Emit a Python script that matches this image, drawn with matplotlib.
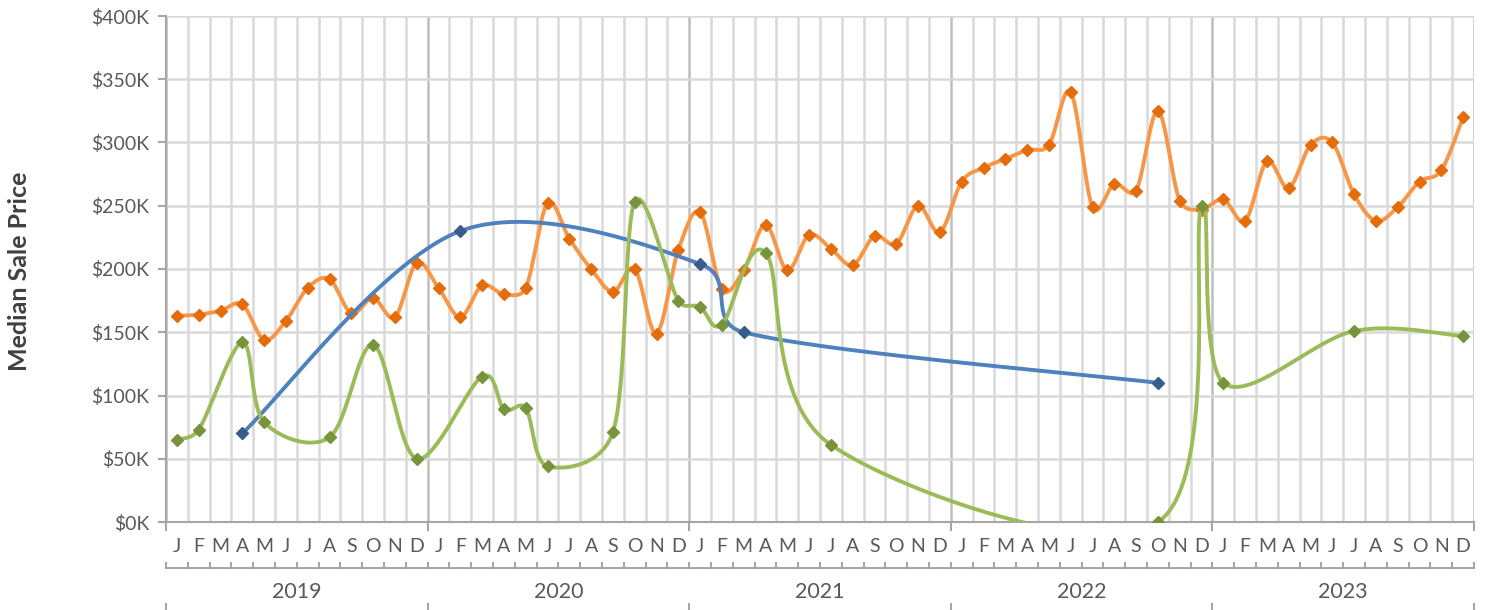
import matplotlib.pyplot as plt
import numpy as np
from matplotlib.transforms import blended_transform_factory
from matplotlib.ticker import FuncFormatter

plt.rcParams['font.family'] = ['Lato', 'DejaVu Sans']

# median sale price in $K, one entry per month Jan 2019 .. Dec 2023 (None = no sale)
month_letters = ['J', 'F', 'M', 'A', 'M', 'J', 'J', 'A', 'S', 'O', 'N', 'D']
years = ['2019', '2020', '2021', '2022', '2023']

orange_k = [163, 164, 167, 172, 144, 159, 185, 192, 165, 177, 162, 205,
            185, 162, 187, 180, 185, 252, 224, 200, 182, 200, 149, 215,
            245, 184, 199, 235, 199, 227, 216, 203, 226, 220, 250, 229,
            269, 280, 287, 294, 298, 340, 249, 267, 262, 325, 254, 247,
            255, 238, 285, 264, 298, 300, 259, 238, 249, 269, 278, 320]

green_k = [65, 73, None, 142, 79, None, None, 67, None, 140, None, 50,
           None, None, 115, 89, 90, 44, None, None, 71, 253, None, 175,
           170, 156, None, 213, None, None, 61, None, None, None, None, None,
           None, None, None, None, None, None, None, None, None, 0, None, 250,
           110, None, None, None, None, None, 151, None, None, None, None, 147]

blue_k = [None, None, None, 70, None, None, None, None, None, None, None, None,
          None, 230, None, None, None, None, None, None, None, None, None, None,
          204, None, 150, None, None, None, None, None, None, None, None, None,
          None, None, None, None, None, None, None, None, None, 110, None, None,
          None, None, None, None, None, None, None, None, None, None, None, None]

# pixel scale used for the excel-like smoothing
PX_X = 21.8
PX_Y = 1.265


def smooth(xs, ys, n=60):
    p = np.column_stack([np.array(xs, float) * PX_X, np.array(ys, float) * PX_Y])
    if len(p) < 3:
        return xs, ys
    out = [p[:1]]
    for i in range(len(p) - 1):
        p0 = p[i - 1] if i > 0 else p[i]
        p1, p2 = p[i], p[i + 1]
        p3 = p[i + 2] if i + 2 < len(p) else p[i + 1]
        d02 = np.hypot(*(p2 - p0))
        d12 = np.hypot(*(p2 - p1))
        d13 = np.hypot(*(p3 - p1))
        f = 1 / 6 if d02 / 6 < d12 / 2 else d12 / d02 / 2
        g = 1 / 6 if d13 / 6 < d12 / 2 else d12 / d13 / 2
        c1 = p1 + (p2 - p0) * f
        c2 = p2 - (p3 - p1) * g
        t = np.linspace(0, 1, n)[1:, None]
        seg = ((1 - t) ** 3 * p1 + 3 * (1 - t) ** 2 * t * c1
               + 3 * (1 - t) * t ** 2 * c2 + t ** 3 * p2)
        out.append(seg)
    q = np.vstack(out)
    return q[:, 0] / PX_X, q[:, 1] / PX_Y


fig = plt.figure(figsize=(14.88, 6.10), dpi=100)
ax = fig.add_axes([166 / 1488, 1 - 522 / 610, 1308 / 1488, 506 / 610])

series = [
    (orange_k, '#F79646', '#E46C0A', 2),
    (blue_k, '#4F81BD', '#385D8A', 3),
    (green_k, '#9BBB59', '#77933C', 4),
]
for vals, line_c, mark_c, z in series:
    xs = [i for i, v in enumerate(vals) if v is not None]
    ys = [v for v in vals if v is not None]
    sx, sy = smooth(xs, ys)
    ax.plot(sx, sy, color=line_c, lw=2.8, zorder=z, solid_capstyle='round')
    ax.plot(xs, ys, 'D', color=mark_c, ms=6.3, zorder=z + 0.5)

n = len(orange_k)
ax.set_xlim(-0.5, n - 0.5)
ax.set_ylim(0, 400)
ax.set_xticks([])
ax.set_yticks(range(0, 401, 50))
ax.yaxis.set_major_formatter(FuncFormatter(lambda v, p: f'${v:.0f}K'))
ax.tick_params(axis='y', direction='out', length=6, width=1.5, color='#A6A6A6',
               labelsize=14, labelcolor='#595959', pad=6)
ax.grid(axis='y', color='#D9D9D9', lw=1.8, zorder=0)
for k in range(n + 1):
    ax.axvline(k - 0.5, color='#BFBFBF' if k % 12 == 0 else '#D9D9D9', lw=1.8, zorder=0)
for s in ['top', 'right']:
    ax.spines[s].set_visible(False)
for s in ['left', 'bottom']:
    ax.spines[s].set_color('#A6A6A6')
    ax.spines[s].set_linewidth(1.5)

# two-level category axis
tr = blended_transform_factory(ax.transData, fig.transFigure)
fy = lambda py: 1 - py / 610
for i in range(n):
    ax.text(i, fy(547), month_letters[i % 12], transform=tr, ha='center', va='center',
            fontsize=14, color='#595959')
for j, yr in enumerate(years):
    ax.text(j * 12 + 5.5, fy(592), yr, transform=tr, ha='center', va='center',
            fontsize=15.5, color='#595959')
ax.plot([-0.5, n - 0.5], [fy(568), fy(568)], transform=tr, color='#A6A6A6', lw=1.5, clip_on=False)
for k in range(n + 1):
    ax.plot([k - 0.5, k - 0.5], [fy(568), fy(563)], transform=tr, color='#A6A6A6', lw=1.5, clip_on=False)
for k in range(0, n + 1, 12):
    ax.plot([k - 0.5, k - 0.5], [fy(522), fy(530)], transform=tr, color='#A6A6A6', lw=1.5, clip_on=False)
    ax.plot([k - 0.5, k - 0.5], [fy(604), fy(611)], transform=tr, color='#A6A6A6', lw=1.5, clip_on=False)

fig.text(20 / 1488, fy(271), 'Median Sale Price', rotation=90, ha='center', va='center',
         fontsize=18, fontweight='bold', color='#404040')

fig.savefig('out.png', dpi=100)
